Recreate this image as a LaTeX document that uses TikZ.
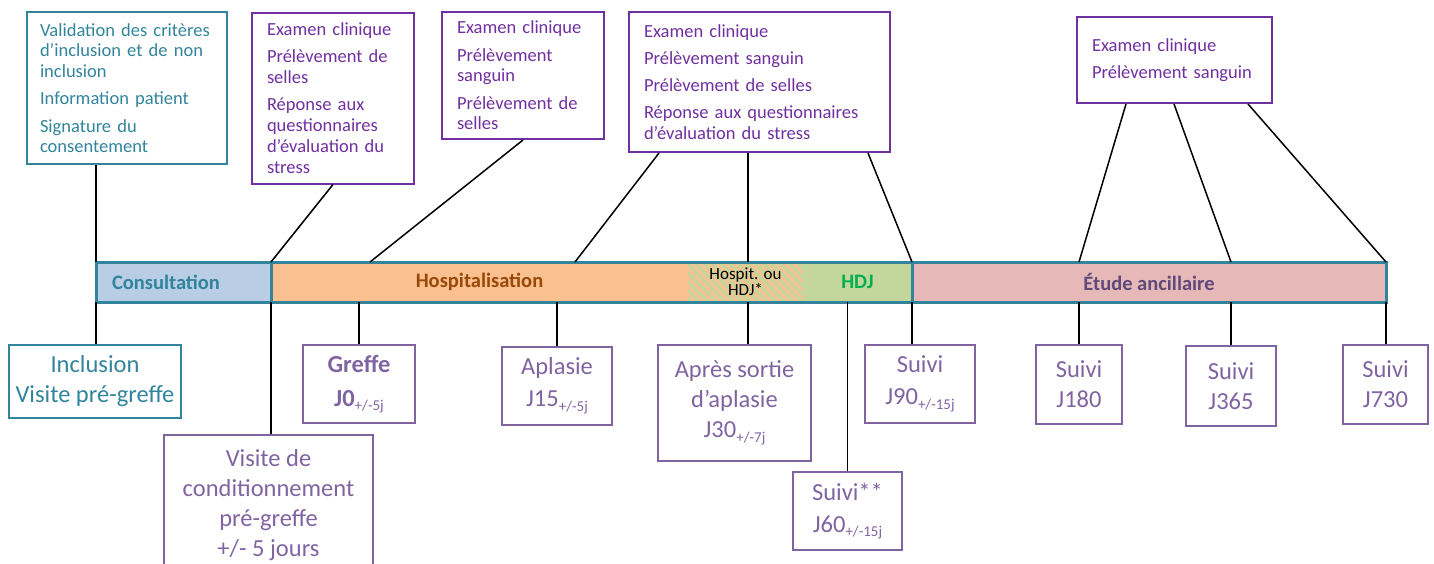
\documentclass[tikz,border=0pt]{standalone}
\usepackage{fontspec}
\setmainfont{Carlito}
\usepackage{tikz}
\usetikzlibrary{positioning}
\definecolor{tealtxt}{RGB}{49,132,155}
\definecolor{purptxt}{RGB}{112,48,160}
\definecolor{lilac}{RGB}{128,100,162}
\definecolor{consfill}{RGB}{185,205,229}
\definecolor{hospfill}{RGB}{250,192,144}
\definecolor{hdjfill}{RGB}{195,214,155}
\definecolor{etudefill}{RGB}{230,185,184}
\definecolor{hosptxt}{RGB}{152,72,7}
\definecolor{hdjtxt}{RGB}{0,176,80}
\definecolor{etudetxt}{RGB}{96,74,123}
\newcommand{\TopFont}{\fontsize{18.5}{20.7}\selectfont}
\newcommand{\BotFont}{\fontsize{24.5}{30}\selectfont}
\newcommand{\Tol}[1]{\raisebox{-4.5pt}{\fontsize{15}{15}\selectfont #1}}

\begin{document}
\begin{tikzpicture}[x=1pt, y=-1pt,
    topbox/.style={draw=purptxt, line width=2pt, text=purptxt, font=\TopFont, align=left, inner xsep=15pt, inner ysep=0pt},
    botbox/.style={draw=lilac, line width=2pt, text=lilac, font=\BotFont, align=center, inner sep=0pt},
    segment/.style={minimum height=40pt, inner sep=0pt, outer sep=0pt, font=\fontsize{20.5}{22}\selectfont\bfseries},
    barline/.style={draw=tealtxt, line width=3pt},
    link/.style={line width=1.5pt}]
    \useasboundingbox (0,0) rectangle (1434,563);

    \node (Consult) [segment, fill=consfill, text=tealtxt, anchor=north west, inner xsep=16pt, text width=143pt, align=left] at (96,262) {Consultation};
    \node (Hosp) [segment, fill=hospfill, text=hosptxt, minimum width=417pt, right=0pt of Consult] {Hospitalisation};
    \node (Mixed) [segment, fill=hospfill, minimum width=115pt, right=0pt of Hosp, align=center, font=\fontsize{17}{14.5}\selectfont,
        path picture={\foreach \k in {0,...,20}
            \draw[hdjfill, line width=3pt] ([xshift=\k*8.5pt-45pt]path picture bounding box.north west) -- ++(45,45);}] {Hospit. ou\\HDJ*};
    \node (HDJ) [segment, fill=hdjfill, text=hdjtxt, minimum width=109pt, right=0pt of Mixed] {HDJ};
    \node (Etude) [segment, fill=etudefill, text=etudetxt, minimum width=474pt, right=0pt of HDJ] {Étude ancillaire};
    \draw[barline] (Consult.north west) rectangle (Etude.south east);
    \draw[barline] (Consult.north east) -- (Consult.south east);
    \draw[barline] (HDJ.north east) -- (HDJ.south east);

    \node (Crit) [topbox, draw=tealtxt, text=tealtxt, inner xsep=13pt, text width=174pt, minimum height=152pt] at (127,88)
        {Validation des critères\\d’inclusion et de non\\inclusion\\[6.6pt]Information patient\\[6.6pt]Signature du\\consentement};
    \node (ExamA) [topbox, text width=132pt, minimum height=171pt] at (333,98)
        {Examen clinique\\[6.6pt]Prélèvement de\\selles\\[6.6pt]Réponse aux\\questionnaires\\d’évaluation du\\stress};
    \node (ExamB) [topbox, text width=132pt, minimum height=127pt] at (523,75.5)
        {Examen clinique\\[6.6pt]Prélèvement\\sanguin\\[6.6pt]Prélèvement de\\selles};
    \node (ExamC) [topbox, text width=231pt, minimum height=140pt] at (759.5,82)
        {Examen clinique\\[6.6pt]Prélèvement sanguin\\[6.6pt]Prélèvement de selles\\[6.6pt]Réponse aux questionnaires\\d’évaluation du stress};
    \node (ExamD) [topbox, text width=165pt, minimum height=86pt] at (1174.5,60)
        {Examen clinique\\[6.6pt]Prélèvement sanguin};

    \node (Incl) [botbox, draw=tealtxt, text=tealtxt, minimum width=172pt, minimum height=73pt] at (95,381.5) {Inclusion\\Visite pré-greffe};
    \node (Cond) [botbox, minimum width=209pt, minimum height=140pt] at (268.5,505) {Visite de\\conditionnement\\pré-greffe\\+/- 5 jours};
    \node (Greffe) [botbox, minimum width=112pt, minimum height=78pt] at (359,384) {\textbf{Greffe}\\[4pt]\textbf{J0}\Tol{+/-5j}};
    \node (J15) [botbox, minimum width=110pt, minimum height=78pt] at (557,386) {Aplasie\\[2pt]J15\Tol{+/-5j}};
    \node (J30) [botbox, minimum width=153pt, minimum height=116pt] at (734.5,403) {Après sortie\\d’aplasie\\J30\Tol{+/-7j}};
    \node (J60) [botbox, minimum width=109pt, minimum height=78pt] at (847.5,511) {Suivi**\\[2pt]J60\Tol{+/-15j}};
    \node (J90) [botbox, minimum width=110pt, minimum height=78pt] at (920,384) {Suivi\\[2pt]J90\Tol{+/-15j}};
    \node (J180) [botbox, minimum width=86pt, minimum height=79pt] at (1079,384.5) {Suivi\\J180};
    \node (J365) [botbox, minimum width=90pt, minimum height=80pt] at (1231,386) {Suivi\\J365};
    \node (J730) [botbox, minimum width=85pt, minimum height=79pt] at (1385.5,384.5) {Suivi\\J730};

    \draw[link] (Consult.north west |- Crit.south) -- (Consult.north west);
    \draw[link] (ExamA.south) -- (Hosp.north west);
    \draw[link] (ExamB.south) -- ([xshift=99pt]Hosp.north west);
    \draw[link] ([xshift=31pt]ExamC.south west) -- ([xshift=304pt]Hosp.north west);
    \draw[link] ([xshift=2.5pt]Mixed.north |- ExamC.south) -- ([xshift=2.5pt]Mixed.north);
    \draw[link] ([xshift=-23pt]ExamC.south east) -- (HDJ.north east);
    \draw[link] ([xshift=50pt]ExamD.south west) -- (J180.north |- Etude.north);
    \draw[link] ([xshift=98pt]ExamD.south west) -- (J365.north |- Etude.north);
    \draw[link] ([xshift=-25pt]ExamD.south east) -- (Etude.north east);

    \draw[link] (Consult.south west) -- (Consult.south west |- Incl.north);
    \draw[link] (Hosp.south west) -- (Hosp.south west |- Cond.north);
    \draw[link] (Greffe.north |- Hosp.south) -- (Greffe.north);
    \draw[link] (J15.north |- Hosp.south) -- (J15.north);
    \draw[link] ([xshift=2.5pt]Mixed.south) -- ([xshift=2.5pt]Mixed.south |- J30.north);
    \draw[link] (J60.north |- HDJ.south) -- (J60.north);
    \draw[link] (HDJ.south east) -- (HDJ.south east |- J90.north);
    \draw[link] (J180.north |- Etude.south) -- (J180.north);
    \draw[link] (J365.north |- Etude.south) -- (J365.north);
    \draw[link] (Etude.south east) -- (Etude.south east |- J730.north);
\end{tikzpicture}
\end{document}
